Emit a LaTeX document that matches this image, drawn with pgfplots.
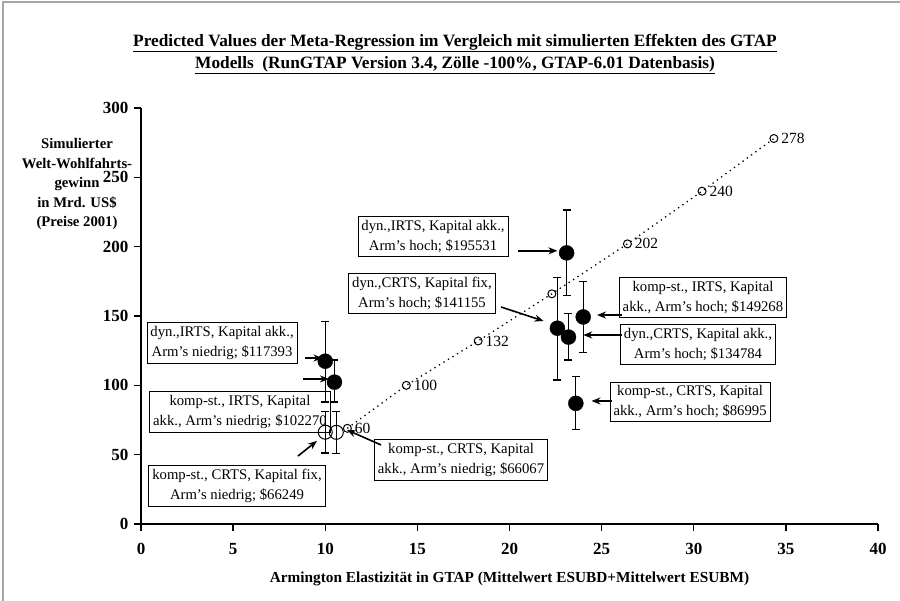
\documentclass[border=0pt]{standalone}
\usepackage{fontspec}
\setmainfont{Liberation Serif}
\usepackage{pgfplots}
\pgfplotsset{compat=1.18}
\usetikzlibrary{arrows.meta}
\tikzset{
  box/.style={draw, line width=0.8pt, align=center, font=\fontsize{14.7}{20}\selectfont, inner sep=3.5pt},
  arr/.style={-{Stealth[length=9pt,width=7pt]}, line width=1.6pt}
}
\begin{document}
\begin{tikzpicture}[x=1pt,y=1pt]
\useasboundingbox (0,0) rectangle (900,601);
\draw[gray!70, line width=1.2pt] (3,0) -- (3,599) -- (900,599);
\node[font=\bfseries\fontsize{17.3}{22}\selectfont, align=center] at (455,547)
  {\underline{Predicted Values der Meta-Regression im Vergleich mit simulierten Effekten des GTAP}\\
   \underline{Modells\ \ (RunGTAP Version 3.4, Zölle -100\%, GTAP-6.01 Datenbasis)}};
\node[font=\bfseries\fontsize{14.7}{19.5}\selectfont, align=center, anchor=north] at (77,466)
  {Simulierter\\Welt-Wohlfahrts-\\gewinn\\in Mrd. US\$\\(Preise 2001)};
\node[font=\bfseries\fontsize{15.3}{18}\selectfont] at (509.5,22)
  {Armington Elastizität in GTAP (Mittelwert ESUBD+Mittelwert ESUBM)};
\begin{axis}[at={(141pt,77pt)}, anchor=south west, scale only axis,
  width=737pt, height=416pt,
  xmin=0, xmax=40, ymin=0, ymax=300,
  axis x line=bottom, axis y line=left,
  axis line style={-, line width=1.6pt},
  xtick={0,5,...,40}, ytick={0,50,...,300},
  tick align=outside, major tick length=7pt,
  tick style={line width=1.3pt, black},
  ticklabel style={font=\bfseries\fontsize{17}{19}\selectfont},
  xticklabel style={yshift=-9pt},
  yticklabel style={xshift=-2pt},
  /pgf/number format/assume math mode=true,
  clip=false
]
% predicted values (meta-regression)
\addplot[black, line width=1.3pt, dash pattern=on 1.3pt off 4pt, mark=o, mark size=4,
  mark options={solid, line width=1pt}]
  coordinates {(11.2,69) (14.4,100) (18.3,132) (22.3,166) (26.4,202) (30.45,240) (34.35,278)};
\addplot[draw=none, mark=none, nodes near coords, point meta=explicit symbolic,
  every node near coord/.append style={anchor=west, xshift=4pt, font=\fontsize{15.5}{18}\selectfont}]
  coordinates {(11.2,69) [60] (14.4,100) [100] (18.3,132) [132] (26.4,202) [202] (30.45,240) [240] (34.35,278) [278]};
% simulated GTAP effects, filled
\addplot[only marks, mark=*, mark size=7.5, black,
  error bars/.cd, y dir=both, y explicit,
  error bar style={line width=1.2pt},
  error mark options={rotate=90, mark size=4pt, line width=1.2pt}]
  coordinates {
   (23.1,195.5) += (0,31) -= (0,30.5)
   (22.6,141.2) += (0,36.8) -= (0,37.4)
   (23.2,134.8) += (0,16.8) -= (0,16.5)
   (24.0,149.3) += (0,25.5) -= (0,25.8)
   (23.6,87.0) += (0,19.2) -= (0,18.7)
   (10.0,117.4) += (0,28.5) -= (0,29.4)
   (10.5,102.3) += (0,16) -= (0,14.3)
  };
% simulated GTAP effects, open
\addplot[only marks, mark=o, mark size=7, black, mark options={line width=1pt},
  error bars/.cd, y dir=both, y explicit,
  error bar style={line width=1.2pt},
  error mark options={rotate=90, mark size=4pt, line width=1.2pt}]
  coordinates {
   (10.0,66.2) += (0,15) -= (0,15)
   (10.6,66.1) += (0,15) -= (0,15)
  };
% annotations
\node[box] at (axis cs:15.85,207.3) {dyn.,IRTS, Kapital akk.,\\Arm's hoch; \$195531};
\draw[arr] (axis cs:20.46,197) -- (axis cs:22.6,197);
\node[box] at (axis cs:15.25,166.2) {dyn.,CRTS, Kapital fix,\\Arm's hoch; \$141155};
\draw[arr] (axis cs:19.54,156.5) -- (axis cs:21.85,146.4);
\node[box] at (axis cs:30.5,163.3) {komp-st., IRTS, Kapital\\akk., Arm's hoch; \$149268};
\draw[arr] (axis cs:26.1,150.7) -- (axis cs:24.75,150.7);
\node[box] at (axis cs:30.23,129.5) {dyn.,CRTS, Kapital akk.,\\Arm's hoch; \$134784};
\draw[arr] (axis cs:26.1,136.3) -- (axis cs:24.0,136.3);
\node[box] at (axis cs:29.8,88) {komp-st., CRTS, Kapital\\akk., Arm's hoch; \$86995};
\draw[arr] (axis cs:25.56,88.7) -- (axis cs:24.45,88.7);
\node[box] at (axis cs:4.4,130.5) {dyn.,IRTS, Kapital akk.,\\Arm's niedrig; \$117393};
\draw[arr] (axis cs:8.9,119.7) -- (axis cs:9.85,119.7);
\node[box] at (axis cs:5.37,80.8) {komp-st., IRTS, Kapital\\akk., Arm's niedrig; \$102270};
\draw[arr] (axis cs:8.79,104.6) -- (axis cs:10.2,104.6);
\node[box] at (axis cs:5.21,27.4) {komp-st., CRTS, Kapital fix,\\Arm's niedrig; \$66249};
\draw[arr] (axis cs:8.52,49.0) -- (axis cs:9.55,59.9);
\node[box] at (axis cs:17.37,46.2) {komp-st., CRTS, Kapital\\akk., Arm's niedrig; \$66067};
\draw[arr] (axis cs:13.03,57.0) -- (axis cs:11.18,67.8);
\end{axis}
\end{tikzpicture}
\end{document}
